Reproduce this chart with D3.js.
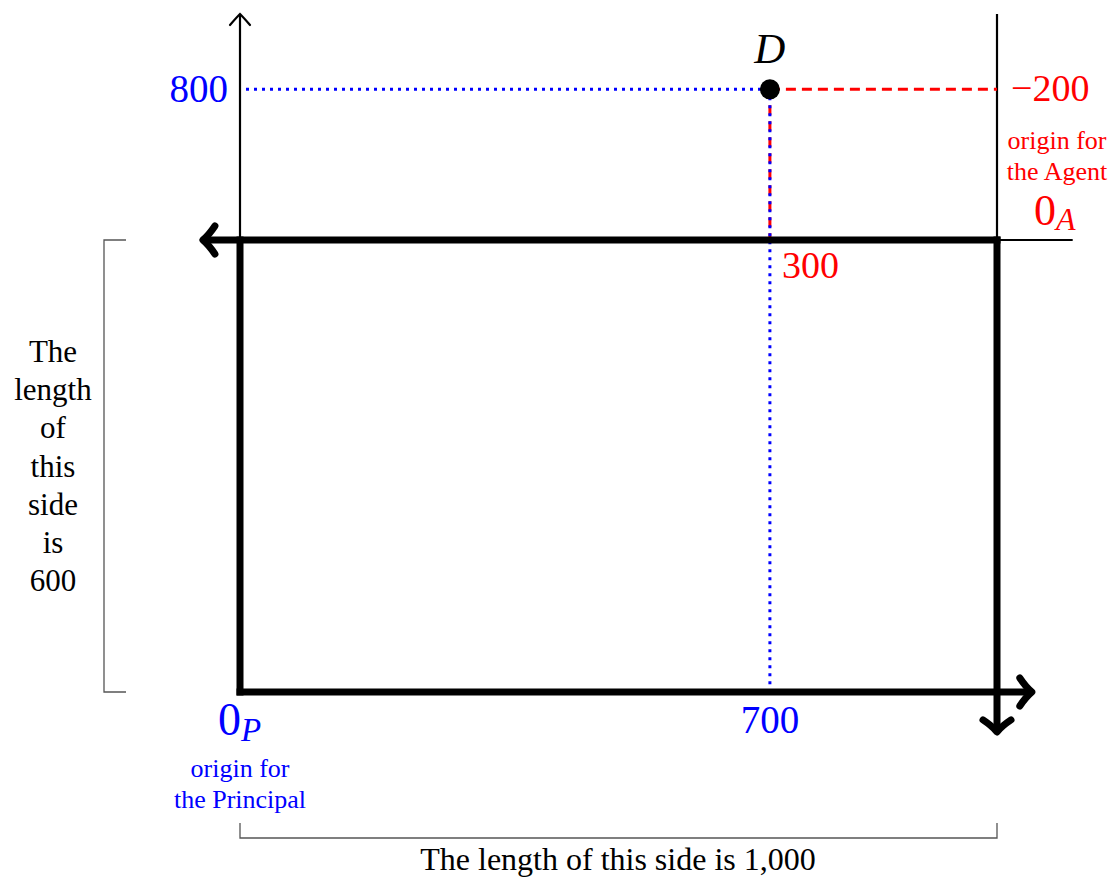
<!DOCTYPE html>
<html><head><meta charset="utf-8">
<script src="https://cdn.jsdelivr.net/npm/d3@7"></script>
<style>body{margin:0;background:#fff}svg{display:block}text{font-family:"Liberation Serif","DejaVu Serif",serif}</style>
</head><body>
<script>
// Data (Principal coordinates)
const boxWidth = [1000];
const boxHeight = [600];
const pointName = ["D"];
const pointX = [700];
const pointY = [800];
const axisTop = [900];
const tickLabelsPrincipal = ["800", "700"];
const tickLabelsAgent = ["\u2212200", "300"];
const originLabels = ["origin for the Principal", "origin for the Agent"];
const sideLabels = ["The length of this side is 600", "The length of this side is 1,000"];

const W = 1112, H = 877;
const svg = d3.select("body").append("svg").attr("width", W).attr("height", H);
const x = d3.scaleLinear().domain([0, boxWidth[0]]).range([240, 997]);
const y = d3.scaleLinear().domain([0, boxHeight[0]]).range([692, 240]);
const BW = boxWidth[0], BH = boxHeight[0];
const px = pointX[0], py = pointY[0];

// thin axes
svg.append("line").attr("x1", x(0)).attr("y1", y(BH)).attr("x2", x(0)).attr("y2", y(axisTop[0]) + 1)
  .attr("stroke", "#000").attr("stroke-width", 2.2);
svg.append("path").attr("d", `M${x(0)-10},${y(axisTop[0])+11} Q${x(0)-4},${y(axisTop[0])+4} ${x(0)},${y(axisTop[0])} Q${x(0)+4},${y(axisTop[0])+4} ${x(0)+10},${y(axisTop[0])+11}`)
  .attr("fill", "none").attr("stroke", "#000").attr("stroke-width", 2.2).attr("stroke-linecap", "round");
svg.append("line").attr("x1", x(BW)).attr("y1", y(BH)).attr("x2", x(BW)).attr("y2", y(axisTop[0]))
  .attr("stroke", "#000").attr("stroke-width", 2.2);
svg.append("line").attr("x1", x(BW)).attr("y1", y(BH)).attr("x2", x(1100)).attr("y2", y(BH))
  .attr("stroke", "#000").attr("stroke-width", 2.2);

// guide lines
svg.append("line").attr("x1", x(px)).attr("y1", y(py)).attr("x2", x(BW)).attr("y2", y(py))
  .attr("stroke", "red").attr("stroke-width", 3).attr("stroke-dasharray", "10,6");
svg.append("line").attr("x1", x(px)).attr("y1", y(py)).attr("x2", x(px)).attr("y2", y(BH))
  .attr("stroke", "red").attr("stroke-width", 3).attr("stroke-dasharray", "10,6");
svg.append("line").attr("x1", x(0) + 6).attr("y1", y(py)).attr("x2", x(px)).attr("y2", y(py))
  .attr("stroke", "blue").attr("stroke-width", 3).attr("stroke-dasharray", "3,5");
svg.append("line").attr("x1", x(px)).attr("y1", y(py)).attr("x2", x(px)).attr("y2", y(0))
  .attr("stroke", "blue").attr("stroke-width", 3).attr("stroke-dasharray", "3,5");

// thick box with arrows
const thick = (x1, y1, x2, y2) => svg.append("line").attr("x1", x1).attr("y1", y1).attr("x2", x2).attr("y2", y2)
  .attr("stroke", "#000").attr("stroke-width", 7);
thick(x(0), y(0) + 3.5, x(0), y(BH) - 3.5);
thick(x(0) - 3.5, y(0), x(1046) - 3, y(0));
thick(x(BW) + 3.5, y(BH), x(-49) + 3, y(BH));
thick(x(BW), y(BH) - 3.5, x(BW), y(-53) - 3);
function head(tx, ty, ang) {
  const g = svg.append("g").attr("transform", `translate(${tx},${ty}) rotate(${ang})`);
  g.append("path").attr("d", "M-12,-14 Q-6,-5 0,0 Q-6,5 -12,14")
    .attr("fill", "none").attr("stroke", "#000").attr("stroke-width", 7).attr("stroke-linecap", "round").attr("stroke-linejoin", "round");
}
head(x(1046), y(0), 0);
head(x(-49), y(BH), 180);
head(x(BW), y(-53), 90);

// brackets
svg.append("path").attr("d", `M${126},${y(BH)} H104 V${y(0)} H126`).attr("fill", "none").attr("stroke", "#555").attr("stroke-width", 1.3);
svg.append("path").attr("d", `M${x(0)},823 V838 H${x(BW)} V823`).attr("fill", "none").attr("stroke", "#555").attr("stroke-width", 1.3);

// point
svg.append("circle").attr("cx", x(px)).attr("cy", y(py)).attr("r", 10).attr("fill", "#000");
svg.append("text").attr("x", x(px)).attr("y", 63).attr("text-anchor", "middle").attr("font-size", 43).attr("font-style", "italic").text(pointName[0]);

// tick labels
svg.append("text").attr("x", 228).attr("y", y(py) + 13).attr("text-anchor", "end").attr("font-size", 39).attr("fill", "blue").text(tickLabelsPrincipal[0]);
svg.append("text").attr("x", x(px)).attr("y", 733).attr("text-anchor", "middle").attr("font-size", 39).attr("fill", "blue").text(tickLabelsPrincipal[1]);
svg.append("text").attr("x", 1011).attr("y", y(py) + 12).attr("font-size", 38).attr("fill", "red").text(tickLabelsAgent[0]);
svg.append("text").attr("x", 782).attr("y", 278).attr("font-size", 38).attr("fill", "red").text(tickLabelsAgent[1]);

// origins
const op = svg.append("text").attr("x", 218).attr("y", 735).attr("font-size", 46).attr("fill", "blue");
op.append("tspan").text("0");
op.append("tspan").attr("font-style", "italic").attr("font-size", 33).attr("dy", 6).text("P");
const oa = svg.append("text").attr("x", 1034).attr("y", 225).attr("font-size", 44).attr("fill", "red");
oa.append("tspan").text("0");
oa.append("tspan").attr("font-style", "italic").attr("font-size", 32).attr("dy", 5).text("A");

const pw = originLabels[0].split(" ");
svg.append("text").attr("x", 240).attr("y", 777).attr("text-anchor", "middle").attr("font-size", 26).attr("fill", "blue").text(pw.slice(0, 2).join(" "));
svg.append("text").attr("x", 240).attr("y", 808).attr("text-anchor", "middle").attr("font-size", 26).attr("fill", "blue").text(pw.slice(2).join(" "));
const aw = originLabels[1].split(" ");
svg.append("text").attr("x", 1057).attr("y", 149).attr("text-anchor", "middle").attr("font-size", 26).attr("fill", "red").text(aw.slice(0, 2).join(" "));
svg.append("text").attr("x", 1057).attr("y", 180).attr("text-anchor", "middle").attr("font-size", 26).attr("fill", "red").text(aw.slice(2).join(" "));

// side labels
const lw = sideLabels[0].split(" ");
svg.append("g").selectAll("text").data(lw).join("text")
  .attr("x", 53).attr("y", (d, i) => 362 + i * 38.2).attr("text-anchor", "middle").attr("font-size", 31).text(d => d);
svg.append("text").attr("x", 618).attr("y", 870).attr("text-anchor", "middle").attr("font-size", 32).text(sideLabels[1]);
</script>
</body></html>
